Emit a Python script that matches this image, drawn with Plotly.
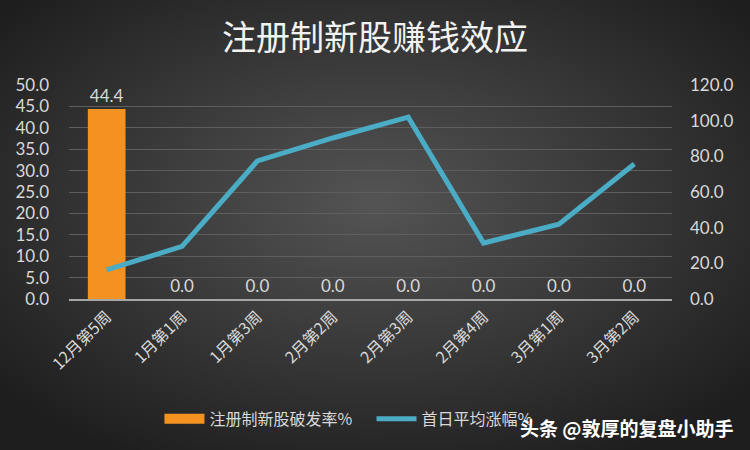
import base64
import plotly.graph_objects as go

# data
weeks = ["12月第5周", "1月第1周", "1月第3周", "2月第2周", "2月第3周", "2月第4周", "3月第1周", "3月第2周"]
break_rate = [44.4, 0.0, 0.0, 0.0, 0.0, 0.0, 0.0, 0.0]
first_day_gain = [16.3, 29.5, 77.4, 90.3, 102.0, 31.4, 42.0, 75.7]

left_ticks = [0, 5, 10, 15, 20, 25, 30, 35, 40, 45, 50]
right_ticks = [0, 20, 40, 60, 80, 100, 120]

label_font = dict(family="Lato, Noto Sans CJK SC, sans-serif", size=17, color="#d9d9d9")
cjk_font = dict(family="Noto Sans CJK SC, sans-serif", size=16, color="#d9d9d9")

# dark radial background like the Excel theme
bg_svg = (
    '<svg xmlns="http://www.w3.org/2000/svg" width="750" height="450">'
    '<defs><radialGradient id="g" cx="50%" cy="45%" r="65%">'
    '<stop offset="0%" stop-color="#545454"/><stop offset="100%" stop-color="#1e1e1e"/>'
    '</radialGradient></defs><rect width="750" height="450" fill="url(#g)"/></svg>'
)
bg_uri = "data:image/svg+xml;base64," + base64.b64encode(bg_svg.encode()).decode()

W, H = 750, 450
ml, mr, mt, mb = 69, 78, 85, 151
pw, ph = W - ml - mr, H - mt - mb

fig = go.Figure()
fig.add_trace(go.Bar(
    x=weeks, y=break_rate, name="注册制新股破发率%", showlegend=False,
    marker=dict(color="#f39221", line=dict(color="#c7681a", width=0)),
    width=0.5,
    text=[f"{v:.1f}" for v in break_rate], textposition="outside",
    textfont=label_font, cliponaxis=False,
))
# legend stand-in so the bar key shows as a wide strip
fig.add_trace(go.Scatter(
    x=[None], y=[None], name="注册制新股破发率%    ", mode="lines",
    line=dict(color="#f39221", width=10),
))
fig.add_trace(go.Scatter(
    x=weeks, y=first_day_gain, name="首日平均涨幅%", yaxis="y2",
    mode="lines", line=dict(color="#4bacc6", width=5),
))

fig.update_layout(
    width=W, height=H,
    paper_bgcolor="#333333", plot_bgcolor="rgba(0,0,0,0)",
    margin=dict(l=ml, r=mr, t=mt, b=mb),
    images=[dict(source=bg_uri, xref="paper", yref="paper",
                 x=-ml / pw, y=1 + mt / ph, sizex=W / pw, sizey=H / ph,
                 xanchor="left", yanchor="top", sizing="stretch", layer="below")],
    title=dict(text="注册制新股赚钱效应", x=0.5, xanchor="center", y=0.915, yanchor="middle",
               font=dict(family="Noto Sans CJK SC, sans-serif", size=34, color="#f2f2f2")),
    font=label_font,
    showlegend=True,
    legend=dict(orientation="h", x=0.15, xanchor="left", y=-0.56, yanchor="middle",
                font=cjk_font, itemwidth=40, bgcolor="rgba(0,0,0,0)"),
    xaxis=dict(tickangle=-45, tickfont=cjk_font, showline=True, linecolor="#a6a6a6",
               linewidth=2, ticks="", showgrid=False),
    yaxis=dict(range=[0, 50], tickvals=left_ticks, tickformat=".1f", tickfont=label_font,
               gridcolor="#5e5e5e", gridwidth=1, zeroline=False, ticks="",
               ticklabelstandoff=19),
    yaxis2=dict(range=[0, 120], tickvals=right_ticks, tickformat=".1f", tickfont=label_font,
                overlaying="y", side="right", showgrid=False, zeroline=False,
                ticklabelstandoff=17),
)

fig.add_annotation(
    text="<b>头条 @敦厚的复盘小助手</b>", xref="paper", yref="paper",
    x=1.105, y=-0.6, xanchor="right", yanchor="middle", showarrow=False,
    font=dict(family="Noto Sans CJK SC, sans-serif", size=19, color="#ffffff"),
)

fig.write_html("out.html", config={"displayModeBar": False},
               post_script="document.body.style.margin='0';")
